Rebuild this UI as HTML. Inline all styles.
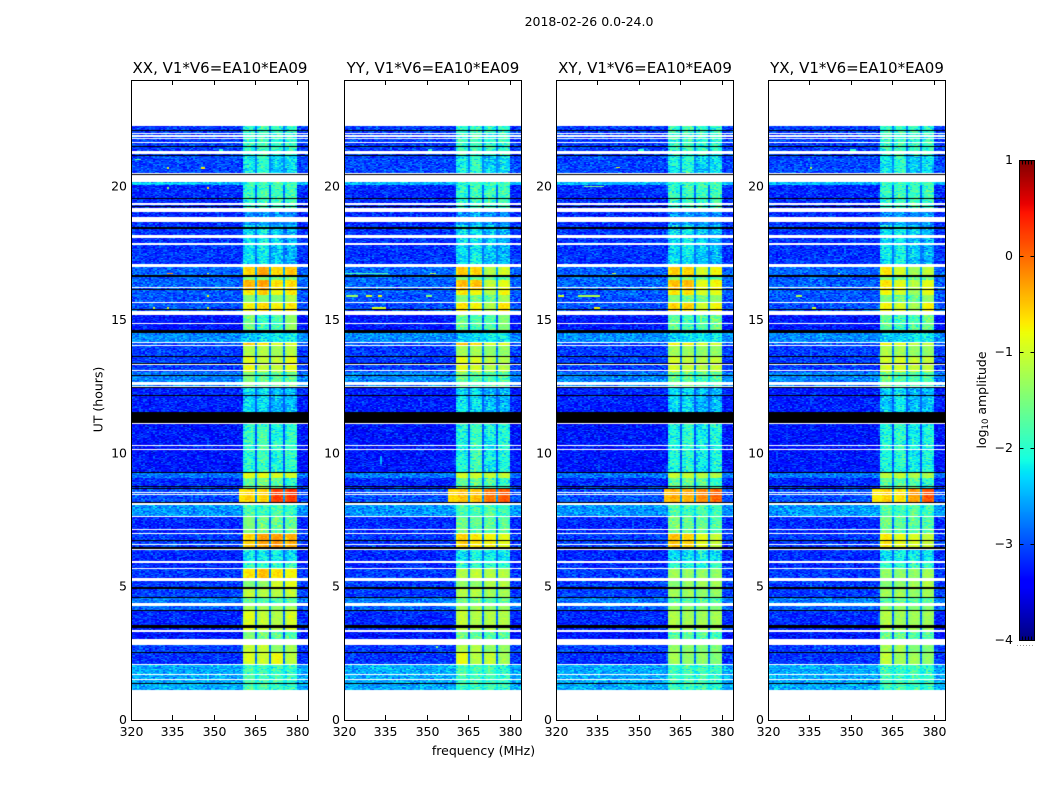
<!DOCTYPE html>
<html lang="en">
<head>
<meta charset="utf-8">
<title>2018-02-26 0.0-24.0</title>
<style>
html,body{margin:0;padding:0;background:#fff;}
#stage{position:relative;width:1050px;height:800px;overflow:hidden;background:#fff;}
canvas{position:absolute;display:block;}
svg{position:absolute;left:0;top:0;}
text{font-family:"DejaVu Sans","Liberation Sans",sans-serif;fill:#000;}
</style>
</head>
<body>
<div id="stage">
<canvas id="heat0" width="177" height="640" style="left:131px;top:80px"></canvas>
<canvas id="heat1" width="177" height="640" style="left:344px;top:80px"></canvas>
<canvas id="heat2" width="177" height="640" style="left:556px;top:80px"></canvas>
<canvas id="heat3" width="177" height="640" style="left:768px;top:80px"></canvas>
<canvas id="cbar" width="15" height="480" style="left:1019px;top:160px"></canvas>
<svg id="overlay" width="1050" height="800" viewBox="0 0 1050 800">
<text x="589" y="26" text-anchor="middle" font-size="12.5">2018-02-26 0.0-24.0</text>
<text x="483.5" y="755" text-anchor="middle" font-size="12.5">frequency (MHz)</text>
<text transform="translate(102.5,399.5) rotate(-90)" text-anchor="middle" font-size="12.5">UT (hours)</text>
<text transform="translate(986,400) rotate(-90)" text-anchor="middle" font-size="12.5">log<tspan font-size="8.5" dy="2">10</tspan><tspan dy="-2"> amplitude</tspan></text>
</svg>
</div>
<script>
/* ---------- data ---------- */
const panelTitles = ["XX, V1*V6=EA10*EA09","YY, V1*V6=EA10*EA09","XY, V1*V6=EA10*EA09","YX, V1*V6=EA10*EA09"];
const xTickLabels = [320,335,350,365,380];
const yTickLabels = [0,5,10,15,20];
const colorbarTicks = [1,0,-1,-2,-3,-4];

/* UT boundaries of the observing blocks */
const blockEdgesUT = [1.12,2.10,2.51,2.81,3.37,4.09,4.27,4.61,4.95,5.21,5.66,5.92,6.37,6.97,7.61,8.10,8.70,9.07,9.26,11.14,11.55,12.52,13.05,13.65,14.06,14.17,14.55,15.19,15.67,15.94,16.12,16.50,16.65,16.99,18.56,19.20,20.06,20.17,21.18,22.27];
/* log10 amplitude outside the bands, one per block */
const backgroundLevels = [-2.55,-3.15,-3.1,-3.3,-3.2,-2.9,-2.8,-3.1,-3.1,-3.1,-3.2,-3.2,-3.1,-3.2,-2.65,-3.0,-3.2,-2.8,-3.3,-3.3,-3.25,-2.75,-3.1,-3.1,-3.0,-2.7,-3.3,-3.0,-3.0,-2.95,-2.9,-2.9,-2.9,-3.15,-3.2,-3.2,-2.5,-3.05,-3.1];
/* log10 amplitude in the four spectral windows, one row per block */
const bandsXX = [
[-1.85,-1.9,-1.9,-1.95],[-0.95,-1.05,-0.85,-1.15],[-1.1,-1.1,-1.4,-1.3],[-1.5,-1.6,-1.8,-1.8],[-0.95,-1.1,-1.2,-1.0],[-1.3,-1.3,-1.4,-1.3],[-1.6,-1.7,-1.8,-1.7],[-1.1,-1.2,-1.2,-1.1],[-1.5,-1.4,-1.0,-0.9],[-0.7,-0.5,-0.7,-0.8],
[-2.0,-2.0,-2.0,-2.0],[-2.3,-2.2,-2.2,-2.3],[-0.6,-0.35,-0.3,-0.4],[-1.5,-1.6,-1.7,-1.7],[-1.8,-1.9,-1.8,-1.9],[-0.6,-0.6,0.2,0.25],[-1.7,-1.6,-1.7,-2.0],[-0.9,-0.9,-1.0,-1.0],[-2.0,-1.9,-2.1,-2.0],[-2.0,-1.9,-2.1,-2.0],
[-2.3,-2.3,-2.5,-2.5],[-1.5,-1.7,-1.7,-1.7],[-0.9,-1.1,-1.1,-0.9],[-1.2,-1.2,-1.3,-1.2],[-0.5,-0.7,-0.9,-0.9],[-2.4,-2.3,-2.2,-2.2],[-1.6,-1.9,-1.8,-1.4],[-0.8,-0.6,-0.8,-0.7],[-1.5,-1.5,-1.5,-1.2],[-0.75,-0.55,-0.8,-0.7],
[-0.45,-0.35,-0.7,-0.65],[-1.5,-1.5,-1.6,-1.6],[-0.6,-0.35,-0.6,-0.5],[-2.3,-2.2,-2.4,-2.5],[-2.7,-2.6,-2.7,-2.7],[-2.0,-1.9,-1.9,-1.9],[-2.0,-1.9,-1.9,-1.9],[-2.2,-2.0,-2.4,-2.3],[-2.0,-1.9,-2.0,-2.0]];
const bandsYY = [
[-1.9,-1.9,-1.9,-2.0],[-0.9,-1.2,-1.1,-1.3],[-1.2,-1.2,-1.4,-1.4],[-1.6,-1.7,-1.8,-1.8],[-1.1,-1.2,-1.2,-1.2],[-1.3,-1.3,-1.4,-1.4],[-1.6,-1.7,-1.8,-1.7],[-1.2,-1.2,-1.3,-1.3],[-1.4,-1.4,-1.2,-1.2],[-1.2,-1.1,-1.2,-1.2],
[-2.0,-2.0,-2.0,-2.0],[-2.3,-2.2,-2.2,-2.3],[-0.6,-0.7,-0.8,-0.9],[-1.6,-1.7,-1.7,-1.7],[-1.8,-1.9,-1.8,-1.9],[-0.5,-0.5,-0.1,0.05],[-1.7,-1.6,-1.8,-2.0],[-1.0,-1.0,-1.1,-1.1],[-2.1,-1.9,-2.2,-2.1],[-2.1,-1.9,-2.2,-2.1],
[-2.3,-2.3,-2.5,-2.5],[-1.6,-1.7,-1.8,-1.8],[-0.9,-1.0,-1.2,-1.2],[-1.3,-1.3,-1.4,-1.4],[-0.5,-0.6,-1.0,-1.0],[-2.4,-2.3,-2.2,-2.2],[-1.6,-1.8,-1.8,-1.5],[-0.7,-0.8,-1.2,-0.7],[-1.5,-1.6,-1.7,-1.3],[-0.7,-0.8,-1.2,-0.8],
[-0.5,-0.5,-1.1,-0.9],[-1.5,-1.6,-1.7,-1.7],[-0.55,-0.6,-1.2,-1.0],[-2.3,-2.2,-2.4,-2.5],[-2.7,-2.6,-2.7,-2.7],[-2.0,-1.9,-1.9,-1.9],[-2.0,-1.9,-1.9,-1.9],[-2.2,-2.0,-2.4,-2.3],[-2.0,-1.9,-2.0,-2.0]];
const bandsXY = [
[-1.9,-1.9,-1.9,-2.0],[-1.3,-1.4,-1.4,-1.5],[-1.4,-1.4,-1.5,-1.5],[-1.7,-1.7,-1.8,-1.8],[-1.2,-1.3,-1.3,-1.3],[-1.4,-1.4,-1.5,-1.5],[-1.7,-1.7,-1.8,-1.8],[-1.3,-1.3,-1.4,-1.4],[-1.5,-1.4,-1.3,-1.3],[-1.3,-1.4,-1.4,-1.4],
[-2.0,-2.0,-2.0,-2.0],[-2.3,-2.2,-2.2,-2.3],[-0.5,-0.6,-0.9,-1.1],[-1.6,-1.7,-1.7,-1.8],[-1.8,-1.9,-1.8,-1.9],[-0.4,-0.4,-0.2,0.0],[-1.7,-1.7,-1.8,-2.0],[-1.1,-1.1,-1.2,-1.2],[-2.1,-2.0,-2.2,-2.1],[-2.1,-2.0,-2.2,-2.1],
[-2.4,-2.3,-2.5,-2.5],[-1.6,-1.7,-1.8,-1.8],[-1.0,-1.1,-1.2,-1.1],[-1.3,-1.3,-1.4,-1.4],[-0.8,-0.8,-1.0,-1.0],[-2.4,-2.3,-2.2,-2.2],[-1.7,-1.9,-1.8,-1.6],[-0.6,-0.6,-1.0,-0.8],[-1.5,-1.6,-1.6,-1.4],[-0.7,-0.7,-1.0,-0.9],
[-0.5,-0.5,-0.9,-0.8],[-1.5,-1.6,-1.7,-1.7],[-0.6,-0.6,-1.0,-0.8],[-2.3,-2.2,-2.4,-2.5],[-2.7,-2.6,-2.7,-2.7],[-2.0,-1.9,-1.9,-1.9],[-2.0,-1.9,-1.9,-1.9],[-2.2,-2.0,-2.4,-2.3],[-2.0,-1.9,-2.0,-2.0]];
const bandsYX = [
[-1.9,-1.9,-1.9,-2.0],[-1.1,-1.3,-1.3,-1.4],[-1.3,-1.3,-1.5,-1.5],[-1.7,-1.7,-1.8,-1.8],[-1.2,-1.3,-1.3,-1.3],[-1.4,-1.4,-1.5,-1.5],[-1.7,-1.7,-1.8,-1.8],[-1.3,-1.3,-1.4,-1.3],[-1.5,-1.4,-1.3,-1.2],[-1.4,-1.4,-1.4,-1.3],
[-2.0,-2.0,-2.0,-2.0],[-2.3,-2.2,-2.2,-2.3],[-0.7,-0.9,-1.0,-1.1],[-1.6,-1.7,-1.7,-1.8],[-1.8,-1.9,-1.8,-1.9],[-0.6,-0.7,-0.3,0.1],[-1.7,-1.7,-1.8,-2.0],[-1.1,-1.1,-1.2,-1.2],[-2.1,-2.0,-2.2,-2.1],[-2.1,-2.0,-2.2,-2.1],
[-2.4,-2.3,-2.5,-2.5],[-1.6,-1.7,-1.8,-1.8],[-1.0,-1.0,-1.1,-1.1],[-1.2,-1.3,-1.4,-1.4],[-0.8,-0.9,-1.1,-1.1],[-2.4,-2.3,-2.2,-2.2],[-1.7,-1.9,-1.8,-1.6],[-0.8,-1.0,-1.3,-0.8],[-1.5,-1.6,-1.7,-1.4],[-0.8,-1.0,-1.3,-0.9],
[-0.7,-0.9,-1.2,-0.9],[-1.5,-1.6,-1.7,-1.7],[-0.7,-1.0,-1.3,-1.1],[-2.3,-2.2,-2.4,-2.5],[-2.7,-2.6,-2.7,-2.7],[-2.0,-1.9,-1.9,-1.9],[-2.0,-1.9,-1.9,-1.9],[-2.2,-2.0,-2.4,-2.3],[-2.0,-1.9,-2.0,-2.0]];
/* spectral windows, MHz */
const bandStartsMHz = [360.4,365.55,370.6,375.65];
const bandEndsMHz = [364.9,369.95,374.95,380.0];
/* block 15 (8.1–8.7 UT) spreads below the first window */
const wideBlockIndex = 15;
const wideBlockStartMHz = [358.9,357.6,358.9,357.4];
/* flagged (blank) and zero-amplitude (black) time ranges, UT */
const whiteRanges = [[21.99,22.03],[21.88,21.92],[21.77,21.81],[21.64,21.68],[21.21,21.35],[20.49,20.53],[20.17,20.44],[19.33,19.37],[19.04,19.20],[18.67,18.86],[18.06,18.19],[17.83,17.87],[16.97,17.10],[16.20,16.24],[15.65,15.69],[15.19,15.34],[14.85,14.89],[14.13,14.18],[14.04,14.08],[13.33,13.37],[13.09,13.13],[12.56,12.66],[12.49,12.53],[11.11,11.15],[10.28,10.32],[10.13,10.17],[8.52,8.56],[8.42,8.46],[8.06,8.14],[7.60,7.64],[7.12,7.16],[6.98,7.02],[6.57,6.61],[6.37,6.41],[5.93,5.97],[5.88,5.92],[5.67,5.71],[5.27,5.34],[5.23,5.27],[4.33,4.37],[4.27,4.31],[3.31,3.37],[2.82,3.04],[2.07,2.11],[1.70,1.74],[1.51,1.55]];
const blackRanges = [[22.08,22.12],[21.50,21.54],[21.16,21.20],[20.44,20.47],[19.55,19.59],[19.23,19.27],[18.43,18.47],[16.63,16.67],[16.11,16.15],[15.39,15.43],[14.52,14.62],[13.60,13.64],[13.36,13.40],[12.90,12.94],[12.44,12.48],[12.16,12.20],[11.15,11.55],[9.25,9.29],[8.72,8.76],[8.67,8.71],[8.14,8.18],[6.70,6.74],[6.41,6.49],[4.93,4.97],[4.58,4.62],[4.07,4.11],[3.45,3.55],[2.52,2.56],[1.34,1.38]];
/* isolated interference: panel, UT from, UT to, MHz from, MHz to, level */
const rfiPatches = [
[0,21.26,21.42,351.5,353,-2.0],[0,21.01,21.05,321.5,323.5,-1.7],[0,20.68,20.72,333,334,-1.0],[0,20.68,20.72,345.5,346.5,-0.7],[0,19.93,19.97,347.5,348.5,-0.6],[0,19.93,19.97,333,334,-1.4],[0,16.74,16.78,333,335,-0.2],[0,16.74,16.78,347.5,348.5,-0.9],[0,15.88,15.92,347.5,348.5,-0.7],[0,15.43,15.47,333,334,-0.9],[0,15.43,15.47,347.5,348.5,-0.9],[0,15.43,15.47,328,329,-1.0],[0,20.10,20.14,320,345,-2.2],
[1,21.26,21.42,350.5,352,-2.0],[1,16.74,16.78,320,336,-1.8],[1,16.74,16.78,351,353,-1.2],[1,15.88,15.92,320.5,325,-1.3],[1,15.88,15.92,328,330,-1.0],[1,15.88,15.92,332,334,-0.8],[1,15.43,15.47,330,335,-0.9],[1,15.88,15.92,350,352,-1.4],[1,9.60,9.90,333,334,-2.5],[1,2.70,2.78,353,354,-1.4],
[2,21.26,21.42,350,352,-2.0],[2,19.97,20.01,330,337,-1.5],[2,15.88,15.92,328,336,-1.2],[2,15.88,15.92,321,323,-1.0],[2,15.43,15.47,334,336,-0.8],[2,16.74,16.78,340,342,-1.0],[2,20.70,20.74,342,343,-0.9],
[3,21.26,21.42,350,351.5,-2.0],[3,20.68,20.72,335,336,-1.2],[3,15.88,15.92,330,332,-1.2],[3,15.43,15.47,336,337,-1.0],[3,16.74,16.78,345,346,-1.1]];
/* speckle and per-channel shape, log10 units */
const speckleA = [0.11,-0.23,0.04,0.27,-0.09,-0.31,0.18,0.02,-0.14,0.33,-0.05,0.21,-0.26,0.08,-0.18,0.14,-0.02,0.29,-0.21,0.06,-0.11,0.24,-0.29];
const speckleB = [-0.12,0.19,-0.27,0.07,0.25,-0.04,-0.17,0.31,0.03,-0.22,0.13,-0.08,0.22,-0.3,0.16,-0.01,0.09,-0.19,0.28,-0.13,0.05,-0.24,0.2,-0.06,0.12,-0.16,0.26,-0.1,0.01];
const channelShape = [-0.12,0.0,0.05,0.05,0.03,-0.05];
const gapAboveBackground = 0.35;

const panelBands = [bandsXX,bandsYY,bandsXY,bandsYX];

/* ---------- scales ---------- */
const panelLefts = [131,344,556,768];
const plotW = 177, plotH = 640, plotTop = 80;
const FMIN = 320, FMAX = 384, UTMAX = 24;
const xScale = mhz => (mhz - FMIN) * plotW / (FMAX - FMIN);
const yScale = ut => plotH - ut * plotH / UTMAX;
const xInv = px => FMIN + px * (FMAX - FMIN) / plotW;
const yInv = py => (plotH - py) * UTMAX / plotH;

function knots(t, k){
  for(let i=1;i<k.length;i++){
    if(t<=k[i][0]){
      const a=k[i-1], b=k[i];
      return a[1]+(b[1]-a[1])*(t-a[0])/(b[0]-a[0]);
    }
  }
  return k[k.length-1][1];
}
const jetR=[[0,0],[.35,0],[.66,1],[.89,1],[1,.5]];
const jetG=[[0,0],[.125,0],[.375,1],[.64,1],[.91,0],[1,0]];
const jetB=[[0,.5],[.11,1],[.34,1],[.65,0],[1,0]];
function jet(v){
  const t=Math.max(0,Math.min(1,(v+4)/5));
  return [knots(t,jetR)*255,knots(t,jetG)*255,knots(t,jetB)*255];
}
function inRanges(ut, ranges){
  for(const r of ranges){
    if(ut>=r[0] && ut<r[1]) return true;
  }
  return false;
}

/* ---------- heatmaps ---------- */
function drawHeat(p){
  const cv=document.getElementById('heat'+p), ctx=cv.getContext('2d');
  const img=ctx.createImageData(plotW,plotH), d=img.data;
  const bands=panelBands[p];
  for(let py=0;py<plotH;py++){
    const ut=yInv(py+0.5);
    let block=-1;
    for(let b=0;b<backgroundLevels.length;b++){
      if(ut>=blockEdgesUT[b] && ut<blockEdgesUT[b+1]){block=b;break;}
    }
    const white=block<0||inRanges(ut,whiteRanges), black=inRanges(ut,blackRanges);
    for(let px=0;px<plotW;px++){
      const i=(py*plotW+px)*4;
      if(white&&!(black&&block>=0)){d[i]=d[i+1]=d[i+2]=255;d[i+3]=255;continue;}
      if(black){d[i]=d[i+1]=d[i+2]=0;d[i+3]=255;continue;}
      const col=Math.floor(px/2), mhz=xInv(col*2+1);
      const bg=backgroundLevels[block];
      let v=bg, amp=0.8;
      if(mhz>=bandStartsMHz[0]&&mhz<bandEndsMHz[3]){
        let found=false;
        for(let k=0;k<4;k++){
          if(mhz>=bandStartsMHz[k]&&mhz<bandEndsMHz[k]){
            const pos=Math.min(5,Math.floor((mhz-bandStartsMHz[k])/(bandEndsMHz[k]-bandStartsMHz[k])*6));
            const level=bands[block][k];
            v=level+channelShape[pos];
            amp=level<-1.5?0.85:0.3;
            found=true;
            break;
          }
        }
        if(!found){
          v=bg+gapAboveBackground;
          amp=0.3;
        }
      } else if(block===wideBlockIndex && mhz>=wideBlockStartMHz[p] && mhz<bandStartsMHz[0]){
        v=bands[block][0]-0.1;
        amp=0.2;
      }
      for(const s of rfiPatches){
        if(s[0]===p&&ut>=s[1]&&ut<s[2]&&mhz>=s[3]&&mhz<s[4]){v=s[5];amp=0.2;}
      }
      const mix=(col*py)%17;
      v+=amp*(speckleA[(col*7+py*5+mix*3+p*3)%speckleA.length]+speckleB[(col*3+py*11+mix*5+p*13)%speckleB.length]);
      const c=jet(v);
      d[i]=c[0];d[i+1]=c[1];d[i+2]=c[2];d[i+3]=255;
    }
  }
  ctx.putImageData(img,0,0);
}
panelLefts.forEach((_,p)=>drawHeat(p));

/* colorbar */
(function(){
  const ctx=document.getElementById('cbar').getContext('2d');
  for(let y=0;y<480;y++){
    const c=jet(1-(y+0.5)*5/480);
    ctx.fillStyle='rgb('+Math.round(c[0])+','+Math.round(c[1])+','+Math.round(c[2])+')';
    ctx.fillRect(0,y,15,1);
  }
})();

/* ---------- axes ---------- */
const NS='http://www.w3.org/2000/svg';
const svg=document.getElementById('overlay');
function mk(tag,attrs,parent){
  const e=document.createElementNS(NS,tag);
  for(const k in attrs) e.setAttribute(k,attrs[k]);
  parent.appendChild(e);
  return e;
}
panelLefts.forEach((L,p)=>{
  const g=mk('g',{},svg);
  
  
  const frame=mk('rect',{x:L+.5,y:plotTop+.5,width:plotW,height:plotH,fill:'none',stroke:'#000','stroke-width':1},g);
  
  
  const title=mk('text',{x:L+89,y:73,'text-anchor':'middle','font-size':15},g);
  title.textContent=panelTitles[p];
  
  
  xTickLabels.forEach(v=>{
    const x=L+.5+Math.round(xScale(v));
    const t1=mk('line',{x1:x,x2:x,y1:plotTop+plotH,y2:plotTop+plotH-5,stroke:'#000','stroke-width':1,'shape-rendering':'crispEdges'},g);
    
    
    const t2=mk('line',{x1:x,x2:x,y1:plotTop,y2:plotTop+5,stroke:'#000','stroke-width':1,'shape-rendering':'crispEdges'},g);
    
    
    const lab=mk('text',{x:x,y:736,'text-anchor':'middle','font-size':12.5},g);
    lab.textContent=v;
    
    
  });
  yTickLabels.forEach(v=>{
    const lab=mk('text',{x:L-4,y:plotTop+yScale(v)+4,'text-anchor':'end','font-size':12.5},g);
    lab.textContent=v;
    
    
  });
});

/* colorbar frame, ticks */
const cbG=mk('g',{},svg);


const cbFrame=mk('rect',{x:1019.5,y:160.5,width:15,height:480,fill:'none',stroke:'#000','stroke-width':1},cbG);


colorbarTicks.forEach(v=>{
  const y=160.5+(1-v)*96;
  const a=mk('line',{x1:1019.5,x2:1023.5,y1:y,y2:y,stroke:'#000','stroke-width':1,'shape-rendering':'crispEdges'},cbG);
  
  
  const b=mk('line',{x1:1030.5,x2:1034.5,y1:y,y2:y,stroke:'#000','stroke-width':1,'shape-rendering':'crispEdges'},cbG);
  
  
  const lab=mk('text',{x:1013,y:y+3.5,'text-anchor':'end','font-size':12.5},cbG);
  lab.textContent=String(v).replace('-','\u2212');
  
  
});
[1022.5,1025.5,1028.5,1031.5].forEach(x=>{
  const a=mk('line',{x1:x,x2:x,y1:160.5,y2:164.5,stroke:'#000','stroke-width':1,'shape-rendering':'crispEdges'},cbG);
  
  
  const b=mk('line',{x1:x,x2:x,y1:636.5,y2:640.5,stroke:'#000','stroke-width':1,'shape-rendering':'crispEdges'},cbG);
  
  
});
const dots=mk('line',{x1:1017,x2:1035,y1:645.5,y2:645.5,stroke:'#999','stroke-width':1,'stroke-dasharray':'1 2'},cbG);


</script>
</body>
</html>
